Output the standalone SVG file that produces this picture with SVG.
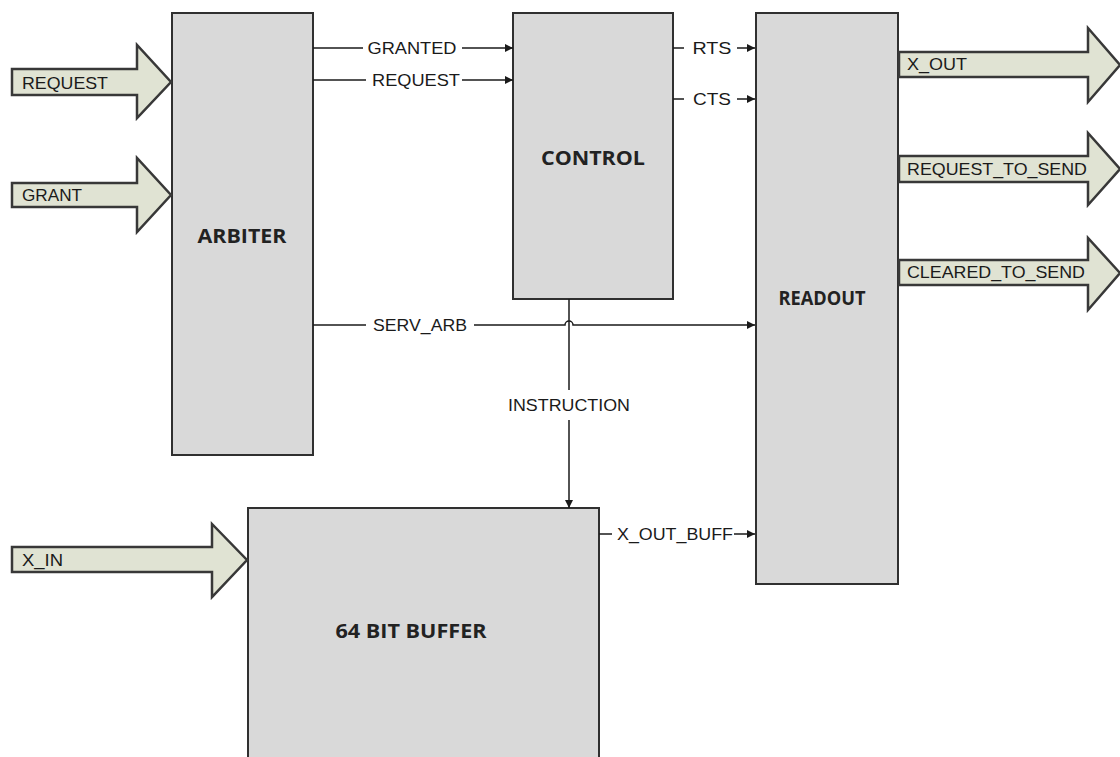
<svg xmlns="http://www.w3.org/2000/svg" width="1120" height="757" viewBox="0 0 1120 757">
<style>
.box{fill:#d9d9d9;stroke:#303030;stroke-width:2}
.big{fill:#e0e3d3;stroke:#383838;stroke-width:2.5;stroke-linejoin:miter}
.ln{stroke:#1a1a1a;stroke-width:1.5;fill:none}
.lbl{font-family:"Liberation Sans",Arial,sans-serif;font-size:17px;fill:#1a1a1a;text-anchor:middle;dominant-baseline:central}
.alb{font-family:"Liberation Sans",Arial,sans-serif;font-size:17px;fill:#1a1a1a;dominant-baseline:central}
.title{font-family:"Open Sans","Liberation Sans",sans-serif;font-weight:bold;font-size:20px;fill:#222;text-anchor:middle;dominant-baseline:central}
</style>
<defs>
<marker id="ah" viewBox="0 0 10 10" refX="10" refY="5" markerWidth="8" markerHeight="8" markerUnits="userSpaceOnUse" orient="auto">
<path d="M0,0 L10,5 L0,10 z" fill="#1a1a1a"/>
</marker>
</defs>
<rect width="1120" height="757" fill="#ffffff"/>
<g id="arbiter"><rect class="box" x="172" y="13" width="141" height="442"/><text class="title" x="242" y="235" textLength="89" lengthAdjust="spacingAndGlyphs">ARBITER</text></g>
<g id="control"><rect class="box" x="513" y="13" width="160" height="286"/><text class="title" x="593" y="157" textLength="104" lengthAdjust="spacingAndGlyphs">CONTROL</text></g>
<g id="readout"><rect class="box" x="756" y="13" width="142" height="571"/><text class="title" x="822" y="297" textLength="87" lengthAdjust="spacingAndGlyphs">READOUT</text></g>
<g id="buffer"><rect class="box" x="248" y="508" width="351" height="260"/><text class="title" x="411" y="630" textLength="151" lengthAdjust="spacingAndGlyphs">64 BIT BUFFER</text></g>
<g id="in-request"><path class="big" d="M12,69 H137 V45 L171,82 L137,118 V95 H12 Z"/><text class="alb" x="22" y="83" textLength="86" lengthAdjust="spacingAndGlyphs">REQUEST</text></g>
<g id="in-grant"><path class="big" d="M12,183 H137 V158 L171,195 L137,232 V207 H12 Z"/><text class="alb" x="22" y="195" textLength="60" lengthAdjust="spacingAndGlyphs">GRANT</text></g>
<g id="in-xin"><path class="big" d="M12,547 H212 V524 L247,560 L212,597 V572 H12 Z"/><text class="alb" x="22" y="560" textLength="41" lengthAdjust="spacingAndGlyphs">X_IN</text></g>
<g id="out-xout"><path class="big" d="M899,52 H1088 V28 L1120,65 L1088,102 V77 H899 Z"/><text class="alb" x="907" y="64" textLength="60" lengthAdjust="spacingAndGlyphs">X_OUT</text></g>
<g id="out-rts"><path class="big" d="M899,156 H1088 V133 L1120,169 L1088,205 V182 H899 Z"/><text class="alb" x="907" y="169" textLength="180" lengthAdjust="spacingAndGlyphs">REQUEST_TO_SEND</text></g>
<g id="out-cts"><path class="big" d="M899,260 H1088 V238 L1120,273 L1088,310 V285 H899 Z"/><text class="alb" x="907" y="272" textLength="178" lengthAdjust="spacingAndGlyphs">CLEARED_TO_SEND</text></g>
<g id="connectors">
<path class="ln" d="M313,48 H363"/><path class="ln" d="M462,48 H513" marker-end="url(#ah)"/>
<text class="lbl" x="412" y="48" textLength="89" lengthAdjust="spacingAndGlyphs">GRANTED</text>
<path class="ln" d="M313,80 H366"/><path class="ln" d="M462,80 H513" marker-end="url(#ah)"/>
<text class="lbl" x="416" y="80" textLength="88" lengthAdjust="spacingAndGlyphs">REQUEST</text>
<path class="ln" d="M673,48 H684"/><path class="ln" d="M737,48 H755" marker-end="url(#ah)"/>
<text class="lbl" x="712" y="48" textLength="39" lengthAdjust="spacingAndGlyphs">RTS</text>
<path class="ln" d="M673,99 H684"/><path class="ln" d="M737,99 H755" marker-end="url(#ah)"/>
<text class="lbl" x="712" y="99" textLength="38" lengthAdjust="spacingAndGlyphs">CTS</text>
<path class="ln" d="M313,325 H366"/><path class="ln" d="M474,325 H565 A4,4 0 0 1 573,325 H755" marker-end="url(#ah)"/>
<text class="lbl" x="420" y="325" textLength="94" lengthAdjust="spacingAndGlyphs">SERV_ARB</text>
<path class="ln" d="M569,299 V390"/><path class="ln" d="M569,420 V508" marker-end="url(#ah)"/>
<text class="lbl" x="569" y="405" textLength="122" lengthAdjust="spacingAndGlyphs">INSTRUCTION</text>
<path class="ln" d="M599,534 H612"/><path class="ln" d="M734,534 H755" marker-end="url(#ah)"/>
<text class="lbl" x="675" y="534" textLength="116" lengthAdjust="spacingAndGlyphs">X_OUT_BUFF</text>
</g>
</svg>
